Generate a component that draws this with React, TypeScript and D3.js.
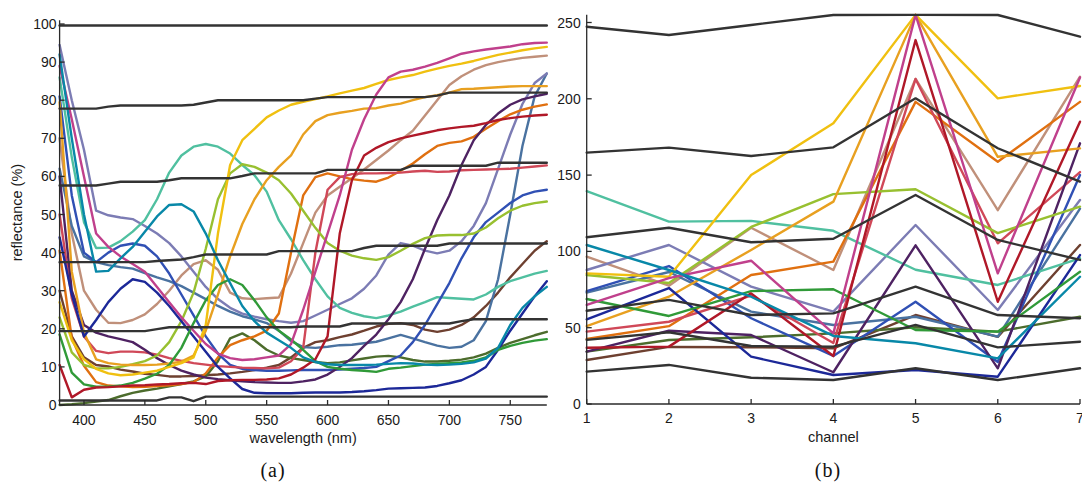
import React from "react";
import * as d3 from "d3";

// ---------- data: spectral reflectance (%) ----------
const wavelengths = [380,390,400,410,420,430,440,450,460,470,480,490,500,510,520,530,540,550,560,570,580,590,600,610,620,630,640,650,660,670,680,690,700,710,720,730,740,750,760,770,780];

const darkSkin = [30,18,12.5,10.5,10.1,9.3,8.8,8.2,7.9,7.5,7.5,7.6,7.8,8,8.3,8.7,9.2,9.8,10.5,12.5,15,16.5,17,17.8,18.5,19.5,20.6,21.3,21.5,21,19.8,19.2,19.8,21,23,26,29.5,33.5,37,40.5,43];
const lightSkin = [70,45,30,25,21.6,21.5,22.3,23.8,26.5,30,34,37,38,35.5,29.5,28,27.8,28,28.2,34.5,42.5,50.5,55,57.3,59.5,61.8,64.3,66.8,69.5,72,76,80,84,86.3,88,89.2,90,90.6,91.1,91.4,91.7];
const blueSky = [62,47,39,37.5,36.7,36.2,35.8,34.6,33.5,32.5,31.2,29.5,27.8,26,24.5,23.3,22.5,21.5,19.5,16.8,15.2,15,15.3,15.7,15.8,16.2,16.6,17.5,18.4,17.5,16.5,15.6,15,15.3,17,22,33,50,68,81,87];
const foliage = [0,0.2,0.5,0.9,1.3,2.3,3.2,3.8,4.3,4.9,5.5,6.2,7.5,11.5,17.5,18.8,17,14.5,13,12.3,11.8,11.3,11,11.2,11.7,12.2,12.7,12.9,12.5,11.8,11.4,11.4,11.6,11.9,12.5,13.5,15,16.3,17.3,18.3,19.2];
const blueFlower = [94.5,80,67,51,49.8,49.2,48.8,47,45,42.5,39,35,31,27.8,25.5,24,23.2,22.5,22,21.6,22,23.5,25,26.5,28,30.5,34,39.5,42.5,41.8,40.5,39.8,40.5,43,47,53,62,71,79,84.5,87];
const bluishGreen = [86,65,48,41.2,41.3,43,45.5,48.5,54,61,65.5,67.8,68.5,67.8,66,63,60.3,56,48.5,43.5,38,33,28.5,25.5,24.2,23.3,22.8,23.5,24.5,25.8,27,28.3,28.1,27.9,27.7,29,31,32.5,33.5,34.5,35.2];
const orange = [40.5,17.5,10.3,6,5.1,4.9,4.7,4.8,5,5.2,5.5,6,8.3,12.5,15.7,17,18,19.5,24,40,55,59.8,60.8,60,59.3,58.9,58.6,59.7,61.5,63.4,65.8,68,68.8,69.2,70.4,72.5,74.5,76.3,77.5,78.3,78.9];
const purplishBlue = [81,55,40,37.5,40,41.8,42.4,41.8,39,34.5,29,23.5,18,13.5,10.5,9.5,9.2,9,9,9.1,9.2,9.2,9.2,9.3,9.5,9.7,10,11.5,13,16.5,21,26.5,32,38.5,44,48,50.5,53,55,56,56.5];
const moderateRed = [50,28,18,14.2,13.6,14,14,13.8,13.2,12.3,11.6,11,10.6,10.2,10,9.8,9.7,9.6,9.8,11.5,15,40,56.5,59.8,60.6,60.8,60.8,60.9,61,61.3,61.5,61.2,61.3,61.6,61.7,61.8,61.9,62,62.3,62.6,62.9];
const purple = [60,30,21,19,18,17.3,16.5,14.5,12.3,10.5,9,8,7.2,6.8,6.5,6.2,6,5.9,5.8,5.8,6.2,6.7,8,10,12.3,15.5,18.5,22.5,27,33,41,48.5,55,63,69.5,73.5,76.5,78.8,80.2,81,81.7];
const yellowGreen = [23,13.8,10.5,9.6,9.6,10,10.7,11.5,13,16.5,22,29.5,41,54,60.8,63.2,62.5,61,59,55.5,51,46.5,42.5,40.5,39.2,38.5,38.1,38.8,40.5,42.3,43.8,44.5,44.6,44.6,45,46.6,49,51,52.3,53,53.4];
const orangeYellow = [79.5,35,19,12,11,10.6,10.5,10.5,10.6,10.9,11.4,13,19.5,29,39,47.5,54,59,62.5,65.5,71,74.5,76.1,76.7,77.2,77.8,77.9,78.6,79.1,80,80.8,81.3,82,82.9,83,83.2,83.4,83.6,83.7,83.7,83.7];
const blue = [44,29,18,22.3,27,30.5,33,32.3,29.5,26,22,18,14,10,7,4.2,3.2,3.1,3.1,3.1,3.2,3.3,3.3,3.3,3.4,3.6,3.9,4.3,4.4,4.5,4.6,5,5.7,6.5,8,10,14.5,19.5,24,28.5,32.5];
const green = [18.5,8.5,5.4,4.8,4.8,5.1,5.8,6.9,8.2,10.5,15,21.5,27.5,31.5,33,31.5,27.5,23,19.5,17.2,14.5,11.5,10,9.5,9.2,9,8.7,9.5,9.8,10.2,10.6,10.8,11,11.2,11.6,12.5,14.5,15.5,16.3,16.9,17.3];
const red = [10.5,2,4,4.6,4.7,4.9,5.1,5.2,5.4,5.5,5.7,5.8,5.5,6.3,6.5,6.6,6.6,6.7,7,8,9.8,12,18,45,59,65.5,67.5,69,70,70.7,71.4,72.1,72.6,73,73.3,74,74.8,75.3,75.7,76,76.2];
const yellow = [27,17,12,9.5,8.3,7.8,8,8.5,9,10,11,12.5,21,45,63,69.5,72.5,75.5,77.3,78.8,79.6,80.3,81,81.8,82.5,83.2,84.3,85.3,86,86.6,87.5,88.3,89,89.6,90.3,91.1,91.9,92.5,93.1,93.6,94];
const magenta = [89,75,60,45,41.5,39,37,35,31,27,23,19.5,16,13.5,12.3,11.8,12,12.5,13,16,25,35,45,55,67,75,81.5,86,87.5,88,88.8,89.8,91,92.2,92.8,93.3,93.7,94.1,94.7,95,95.1];
const cyan = [92,70,50,35,35.2,38.5,41.5,45.5,49.5,52.5,52.7,50.8,45,38,32,26,22,19,17,15,12.5,11.3,10.7,10.5,10.5,10.5,10.6,10.8,11,10.9,10.6,10.5,10.6,10.8,11.2,12.2,15,21,25.5,28.5,31];
const white = [99.6,99.6,99.6,99.6,99.6,99.6,99.6,99.6,99.6,99.6,99.6,99.6,99.6,99.6,99.6,99.6,99.6,99.6,99.6,99.6,99.6,99.6,99.6,99.6,99.6,99.6,99.6,99.6,99.6,99.6,99.6,99.6,99.6,99.6,99.6,99.6,99.6,99.6,99.6,99.6,99.6];
const neutral8 = [77.8,77.8,77.8,77.8,78.3,78.6,78.6,78.6,78.6,78.6,78.6,78.8,79.4,80,80,80,80,80,80,80,80,80.4,80.8,80.8,80.8,80.8,80.8,80.8,80.8,80.8,80.8,81.2,82,82,82,82,82,82,82,82,82];
const neutral65 = [57.6,57.6,57.6,57.6,58.1,58.6,58.6,58.6,58.6,59,59.5,59.5,59.5,59.5,59.5,60.1,60.8,60.8,60.8,60.8,60.8,60.8,61.7,61.7,61.7,61.7,61.7,61.7,61.7,62.8,62.8,62.8,62.8,62.8,62.8,62.8,63.6,63.6,63.6,63.6,63.6];
const neutral5 = [37.5,37.5,37.5,37.5,37.5,37.5,37.5,37.5,37.8,38,38.2,38.8,39.5,39.5,39.5,39.5,39.5,39.5,40.4,40.4,40.4,40.4,40.4,40.4,40.4,41.2,41.8,41.8,41.8,41.8,41.8,41.8,42.4,42.4,42.4,42.4,42.4,42.4,42.4,42.4,42.4];
const neutral35 = [19.4,19.4,19.4,19.4,19.4,19.4,19.4,19.4,19.9,20.4,20.4,20.4,20.4,20.4,20.4,20.4,20.4,20.4,20.4,20.4,20.6,20.6,20.6,20.6,21.4,21.4,21.4,21.4,21.4,21.4,21.4,21.4,21.4,22,22.5,22.5,22.5,22.5,22.5,22.5,22.5];
const black = [1.2,1.2,1.2,1.2,1.2,1.2,1.2,1.2,1.2,2,2,1,2.2,2.2,2.2,2.2,2.2,2.2,2.2,2.2,2.2,2.2,2.2,2.2,2.2,2.2,2.2,2.2,2.2,2.2,2.2,2.2,2.2,2.2,2.2,2.2,2.2,2.2,2.2,2.2,2.2];

// ---------- data: camera channel responses ----------
const channels = [1,2,3,4,5,6,7];
const chDarkSkin = [28.8,37.4,37.2,36.5,58.3,44,104.2];
const chLightSkin = [96.5,77.5,115.5,87.8,213,127,214.5];
const chBlueSky = [73,86.5,60.5,51.8,57.2,44.1,128];
const chFoliage = [34.3,41.9,43.7,46.3,50.3,47.4,57.2];
const chBlueFlower = [87.8,104.2,76.9,60.5,117.3,61.6,133.7];
const chBluishGreen = [139.5,119.5,120,113.5,88,78,95.5];
const chOrange = [42.6,51,84.5,93.3,198,158.8,198];
const chPurplishBlue = [74,90.4,56.2,31.5,67,27.5,150];
const chModerateRed = [47.4,53.9,71,40,213,105.3,152];
const chPurple = [34.3,48,45.2,20.8,104,23.4,170.8];
const chYellowGreen = [84.5,79.3,116,137.5,140.7,112,129.3];
const chOrangeYellow = [51,70.3,100.9,132.6,255,162,167.5];
const chBlue = [55.5,76,31,19,22.3,17.9,97.6];
const chGreen = [68.8,57.7,74,75.2,48.5,47.4,86.7];
const chRed = [36.9,37.6,72.5,31.5,238.5,67,185];
const chYellow = [85.6,83.4,150,184,255,200.3,208.4];
const chMagenta = [64.9,82.5,93.9,46.3,255,85.6,214];
const chCyan = [104.2,87.8,70.3,44.6,39.8,29.9,83.4];
const chWhite = [247.2,241.8,248.4,254.9,255,254.9,240.7];
const chNeutral8 = [164.7,168,162.5,168.2,200.3,167.6,145.7];
const chNeutral65 = [109.3,115.5,106,108.3,137,107.5,94.4];
const chNeutral5 = [61.1,68.2,58.3,59.4,76.9,58.3,56.2];
const chNeutral35 = [42,47,38,37.6,51.8,37.1,40.8];
const chBlack = [21.2,25.6,17.2,15.7,23.4,15.7,23.4];

// ---------- ticks ----------
const leftXTicks = [400,450,500,550,600,650,700,750];
const leftYTicks = [0,10,20,30,40,50,60,70,80,90,100];
const rightYTicks = [0,50,100,150,200,250];

const GRAY = "#333333";
const series = [
  { s: darkSkin, c: chDarkSkin, color: "#6e4030" },
  { s: lightSkin, c: chLightSkin, color: "#c0907a" },
  { s: blueSky, c: chBlueSky, color: "#4a72a0" },
  { s: foliage, c: chFoliage, color: "#4c6c2c" },
  { s: blueFlower, c: chBlueFlower, color: "#7c7cb4" },
  { s: bluishGreen, c: chBluishGreen, color: "#50c0a0" },
  { s: orange, c: chOrange, color: "#e07010" },
  { s: purplishBlue, c: chPurplishBlue, color: "#3050b4" },
  { s: moderateRed, c: chModerateRed, color: "#d04858" },
  { s: purple, c: chPurple, color: "#4e2262" },
  { s: yellowGreen, c: chYellowGreen, color: "#98c030" },
  { s: orangeYellow, c: chOrangeYellow, color: "#e8a020" },
  { s: blue, c: chBlue, color: "#1c2898" },
  { s: green, c: chGreen, color: "#309a38" },
  { s: red, c: chRed, color: "#b01828" },
  { s: yellow, c: chYellow, color: "#f0c010" },
  { s: magenta, c: chMagenta, color: "#c0408c" },
  { s: cyan, c: chCyan, color: "#0888a8" },
  { s: white, c: chWhite, color: GRAY },
  { s: neutral8, c: chNeutral8, color: GRAY },
  { s: neutral65, c: chNeutral65, color: GRAY },
  { s: neutral5, c: chNeutral5, color: GRAY },
  { s: neutral35, c: chNeutral35, color: GRAY },
  { s: black, c: chBlack, color: GRAY },
];

const FONT = "'Liberation Sans', Arial, Helvetica, sans-serif";

export default function App() {
  const xL = d3.scaleLinear().domain([380, 780]).range([59.6, 546.8]);
  const yL = d3.scaleLinear().domain([0, 100]).range([405, 24]);
  const xR = d3.scaleLinear().domain([1, 7]).range([586.7, 1080]);
  const yR = d3.scaleLinear().domain([0, 250]).range([404, 22.5]);

  const lineL = d3.line<number>().x((_, i) => xL(wavelengths[i])).y((d) => yL(d));
  const lineR = d3.line<number>().x((_, i) => xR(channels[i])).y((d) => yR(d));

  const axisColor = "#2a2a2a";
  const tickLen = 5;

  return (
    <svg width={1082} height={484} style={{ position: "absolute", left: 0, top: 0, background: "#fff" }}>
      {/* left panel lines */}
      <g fill="none" strokeWidth={2.4} strokeLinejoin="round" strokeLinecap="round">
        {series.map((d, i) => (
          <path key={"l" + i} d={lineL(d.s) || ""} stroke={d.color} />
        ))}
      </g>
      {/* right panel lines */}
      <g fill="none" strokeWidth={2.4} strokeLinejoin="round" strokeLinecap="round">
        {series.map((d, i) => (
          <path key={"r" + i} d={lineR(d.c) || ""} stroke={d.color} />
        ))}
      </g>

      {/* left axes */}
      <g stroke={axisColor} strokeWidth={1.3}>
        <line x1={xL(380)} x2={xL(380)} y1={yL(0)} y2={yL(101)} />
        <line x1={xL(380)} x2={xL(780)} y1={yL(0)} y2={yL(0)} />
        {leftXTicks.map((t) => (
          <line key={"lxt" + t} x1={xL(t)} x2={xL(t)} y1={yL(0)} y2={yL(0) - tickLen} />
        ))}
        {leftYTicks.map((t) => (
          <line key={"lyt" + t} x1={xL(380)} x2={xL(380) + tickLen} y1={yL(t)} y2={yL(t)} />
        ))}
      </g>
      <g fontFamily={FONT} fontSize={14} fill="#1a1a1a">
        {leftXTicks.map((t) => (
          <text key={"lxl" + t} x={xL(t)} y={425} textAnchor="middle">{t}</text>
        ))}
        {leftYTicks.map((t) => (
          <text key={"lyl" + t} x={xL(380) - 3} y={yL(t) + 5} textAnchor="end">{t}</text>
        ))}
        <text x={xL(580)} y={443} textAnchor="middle" fontSize={14.5}>wavelength (nm)</text>
        <text transform={`translate(21.5, ${(yL(0) + yL(101)) / 2}) rotate(-90)`} textAnchor="middle" fontSize={14.5}>reflectance (%)</text>
      </g>

      {/* right axes */}
      <g stroke={axisColor} strokeWidth={1.3}>
        <line x1={xR(1)} x2={xR(1)} y1={yR(0)} y2={yR(255)} />
        <line x1={xR(1)} x2={xR(7)} y1={yR(0)} y2={yR(0)} />
        {channels.map((t) => (
          <line key={"rxt" + t} x1={xR(t)} x2={xR(t)} y1={yR(0)} y2={yR(0) - tickLen} />
        ))}
        {rightYTicks.map((t) => (
          <line key={"ryt" + t} x1={xR(1)} x2={xR(1) + tickLen} y1={yR(t)} y2={yR(t)} />
        ))}
      </g>
      <g fontFamily={FONT} fontSize={14} fill="#1a1a1a">
        {channels.map((t) => (
          <text key={"rxl" + t} x={xR(t)} y={423} textAnchor="middle">{t}</text>
        ))}
        {rightYTicks.map((t) => (
          <text key={"ryl" + t} x={xR(1) - 6} y={yR(t) + 5} textAnchor="end">{t}</text>
        ))}
        <text x={xR(4)} y={442} textAnchor="middle" fontSize={14.5}>channel</text>
      </g>

      {/* subfigure captions */}
      <g fontFamily="'Liberation Serif', 'DejaVu Serif', serif" fontSize={20} fill="#111">
        <text x={273} y={477} textAnchor="middle" letterSpacing={1}>(a)</text>
        <text x={828} y={477} textAnchor="middle" letterSpacing={1}>(b)</text>
      </g>
    </svg>
  );
}
